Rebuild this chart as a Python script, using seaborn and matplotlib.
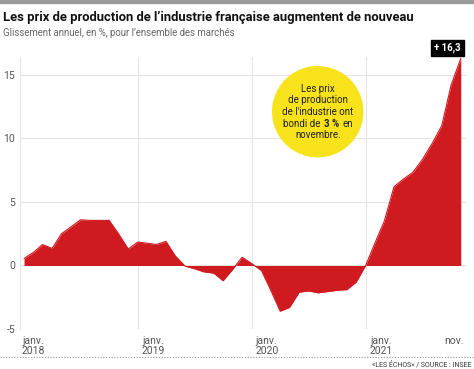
import matplotlib
matplotlib.use('Agg')
import matplotlib.pyplot as plt
import matplotlib.transforms as mtransforms
from matplotlib.lines import Line2D
from matplotlib.patches import Circle, Rectangle
from matplotlib.offsetbox import TextArea, HPacker, VPacker, AnnotationBbox
import pandas as pd
import seaborn as sns

sns.set_style('white')
plt.rcParams['font.family'] = ['Roboto', 'DejaVu Sans']

# glissement annuel des prix de production (%), janv. 2018 -> nov. 2021
months = pd.date_range('2018-01-01', '2021-11-01', freq='MS')
values_2018 = [0.55, 1.05, 1.65, 1.35, 2.5, 3.05, 3.6, 3.55, 3.55, 3.55, 2.45, 1.3]
values_2019 = [1.85, 1.75, 1.65, 1.9, 0.75, -0.05, -0.25, -0.5, -0.6, -1.2, -0.3, 0.65]
values_2020 = [0.15, -0.4, -1.9, -3.6, -3.3, -2.1, -2.0, -2.15, -2.05, -1.95, -1.9, -1.3]
values_2021 = [0.05, 1.9, 3.5, 6.2, 6.8, 7.35, 8.35, 9.6, 11.0, 14.2, 16.3]
values = values_2018 + values_2019 + values_2020 + values_2021

yticks = [-5, 0, 5, 10, 15]
jan_ticks = pd.to_datetime(['2018-01-01', '2019-01-01', '2020-01-01', '2021-01-01'])
jan_years = ['2018', '2019', '2020', '2021']

df = pd.DataFrame({'date': months, 'glissement': values})

RED = '#cf1a1f'
GRID = '#e4e4e4'
W, H, DPI = 474, 369, 100

fig = plt.figure(figsize=(W / DPI, H / DPI), dpi=DPI)
ax = fig.add_axes([20 / W, 1 - 329 / H, 447 / W, 271.8 / H])

sns.lineplot(data=df, x='date', y='glissement', color=RED, lw=0.8, ax=ax)
ax.fill_between(df['date'], df['glissement'], 0, color=RED, lw=0)

ax.set_xlim(pd.Timestamp('2018-01-01') - pd.Timedelta(days=13),
            pd.Timestamp('2021-11-01') + pd.Timedelta(days=20))
ax.set_ylim(-5, 16.4)
ax.set_yticks(yticks)
ax.set_yticklabels([str(v) for v in yticks])
ax.tick_params(axis='y', length=0, pad=3.5, labelsize=7.5, labelcolor='#555555')
ax.set_xticks([])
ax.set_xlabel('')
ax.set_ylabel('')
ax.grid(axis='y', color=GRID, lw=0.8)
ax.set_axisbelow(True)
for d in jan_ticks[1:]:
    ax.axvline(d, color=GRID, lw=0.8, zorder=0)
for s in ['top', 'right', 'bottom']:
    ax.spines[s].set_visible(False)
ax.spines['left'].set_color(GRID)
ax.spines['left'].set_linewidth(0.8)

# x labels
trans = mtransforms.blended_transform_factory(ax.transData, fig.transFigure)
for i, (d, yr) in enumerate(zip(jan_ticks, jan_years)):
    dx = -2 if i == 0 else 4
    off = mtransforms.ScaledTranslation(dx / DPI, 0, fig.dpi_scale_trans)
    ax.text(d, 1 - 343.5 / H, 'janv.', transform=trans + off, ha='left', va='baseline',
            fontsize=7.5, color='#555555')
    ax.text(d, 1 - 353.5 / H, yr, transform=trans + off, ha='left', va='baseline',
            fontsize=7.5, color='#555555')
off = mtransforms.ScaledTranslation(3 / DPI, 0, fig.dpi_scale_trans)
ax.text(months[-1], 1 - 343.5 / H, 'nov.', transform=trans + off, ha='right', va='baseline',
        fontsize=7.5, color='#555555')

# last value label
ax.annotate('+ 16,3', xy=(months[-1], values[-1]), xytext=(-9.5, 7.5), textcoords='offset points',
            ha='center', va='center', fontsize=7, fontweight='bold', color='white',
            bbox=dict(boxstyle='square,pad=0.3', fc='black', ec='black'))

# yellow bubble
fig.add_artist(Circle((317.7 / DPI, (H - 111.7) / DPI), 0.45, transform=fig.dpi_scale_trans,
                      color='#f8e219', zorder=5))
tp = dict(fontsize=7, color='#222222')
lines = [TextArea('Les prix', textprops=tp),
         TextArea('de production', textprops=tp),
         TextArea("de l'industrie ont", textprops=tp),
         HPacker(children=[TextArea('bondi de', textprops=tp),
                           TextArea('3 %', textprops=dict(tp, fontweight='bold')),
                           TextArea('en', textprops=tp)], sep=2.2, pad=0, align='baseline'),
         TextArea('novembre.', textprops=tp)]
box = VPacker(children=lines, sep=1.2, pad=0, align='center')
ab = AnnotationBbox(box, (318, H - 112), xycoords='figure pixels', frameon=False,
                    box_alignment=(0.5, 0.5), zorder=6)
fig.add_artist(ab)

# header / footer
fig.add_artist(Rectangle((0, 1 - 3 / H), 1, 3 / H, transform=fig.transFigure, color='#9a9a9a'))
fig.text(3 / W, 1 - 21 / H, "Les prix de production de l\u2019industrie fran\u00e7aise augmentent de nouveau",
         fontsize=9.4, fontweight='bold', color='#111111', va='baseline')
fig.text(3 / W, 1 - 36 / H, "Glissement annuel, en %, pour l\u2019ensemble des march\u00e9s",
         fontsize=6.9, color='#666666', va='baseline')
fig.add_artist(Line2D([0, 1], [1 - 357 / H] * 2, transform=fig.transFigure,
                      color='#999999', lw=0.8, ls=(0, (1, 1.5))))
fig.text(472 / W, 1 - 366.5 / H, "\u00abLES \u00c9CHOS\u00bb / SOURCE : INSEE",
         fontsize=5, color='#333333', ha='right', va='baseline')

fig.savefig('out.png', dpi=DPI)
